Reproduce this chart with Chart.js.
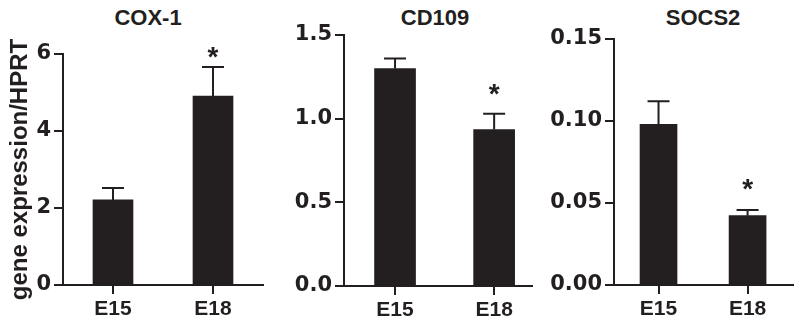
<!DOCTYPE html>
<html>
<head>
<meta charset="utf-8">
<script src="https://cdn.jsdelivr.net/npm/chart.js@4.4.1/dist/chart.umd.min.js"></script>
<style>
  body { margin: 0; background: #fff; width: 800px; height: 326px; position: relative; overflow: hidden; }
  canvas { position: absolute; top: 0; }
  .title { position: absolute; top: 7px; font: bold 22px "Liberation Sans", Arial, sans-serif; line-height: 22px;
           color: #231f20; transform: translateX(-50%); white-space: nowrap; }
</style>
</head>
<body>
<div class="title" style="left:148px">COX-1</div>
<div class="title" style="left:435px">CD109</div>
<div class="title" style="left:703px">SOCS2</div>
<canvas id="cox" width="270" height="326" style="left:0px"></canvas>
<canvas id="cd109" width="270" height="326" style="left:270px"></canvas>
<canvas id="socs2" width="260" height="326" style="left:540px"></canvas>
<script>
const categories = ['E15', 'E18'];

const coxMeans = [2.21, 4.91];
const coxErrors = [0.31, 0.75];
const coxStars = [null, 6.1];
const coxTicks = [0, 2, 4, 6];

const cdMeans = [1.30, 0.935];
const cdErrors = [0.06, 0.095];
const cdStars = [null, 1.19];
const cdTicks = [0, 0.5, 1.0, 1.5];

const socsMeans = [0.098, 0.0423];
const socsErrors = [0.014, 0.0034];
const socsStars = [null, 0.0628];
const socsTicks = [0, 0.05, 0.10, 0.15];

const ink = '#231f20';

function marksPlugin(means, errors, stars, cap) {
  return {
    id: 'marks',
    afterDatasetsDraw(chart) {
      const { ctx, scales: { x, y } } = chart;
      ctx.save();
      ctx.strokeStyle = ink;
      ctx.fillStyle = ink;
      ctx.lineWidth = 2;
      means.forEach((m, i) => {
        const px = x.getPixelForValue(i);
        const y0 = y.getPixelForValue(m);
        const y1 = y.getPixelForValue(m + errors[i]);
        ctx.beginPath();
        ctx.moveTo(px, y0);
        ctx.lineTo(px, y1);
        ctx.moveTo(px - cap / 2, y1);
        ctx.lineTo(px + cap / 2, y1);
        ctx.stroke();
        if (stars[i] != null) {
          ctx.font = 'bold 28px "Liberation Sans", Arial, sans-serif';
          ctx.textAlign = 'center';
          ctx.textBaseline = 'alphabetic';
          ctx.fillText('*', px, y.getPixelForValue(stars[i]) + 16);
        }
      });
      ctx.restore();
    }
  };
}

function makePanel(id, means, errors, stars, ticks, decimals, o) {
  const ctx = document.getElementById(id).getContext('2d');
  return new Chart(ctx, {
    type: 'bar',
    data: {
      datasets: [{
        data: means.map((m, i) => ({ x: i, y: m })),
        backgroundColor: ink,
        borderWidth: 0,
        barThickness: o.barWidth
      }]
    },
    options: {
      responsive: false,
      animation: false,
      devicePixelRatio: 1,
      layout: { padding: { top: o.top, right: o.right, bottom: 0, left: 0 } },
      plugins: { legend: { display: false }, tooltip: { enabled: false } },
      scales: {
        x: {
          type: 'linear',
          offset: false,
          min: o.xMin,
          max: o.xMax,
          afterBuildTicks: s => { s.ticks = categories.map((c, i) => ({ value: i })); },
          afterFit: s => { s.height = o.bottomH; },
          ticks: {
            callback: v => categories[v],
            color: ink,
            padding: 3,
            autoSkip: false,
            maxRotation: 0,
            font: { family: '"Liberation Sans", Arial, sans-serif', size: 21, weight: 'bold' }
          },
          grid: { offset: false, drawOnChartArea: false, drawTicks: true, tickLength: 9, color: ink, lineWidth: 2 },
          border: { color: ink, width: 2 }
        },
        y: {
          min: 0,
          max: ticks[ticks.length - 1],
          afterBuildTicks: s => { s.ticks = ticks.map(v => ({ value: v })); },
          afterFit: s => { s.width = o.leftW; },
          ticks: {
            callback: v => v.toFixed(decimals),
            color: ink,
            padding: 3,
            font: { family: '"DejaVu Sans", sans-serif', size: 21, weight: 'bold' }
          },
          grid: { drawOnChartArea: false, drawTicks: true, tickLength: 9, color: ink, lineWidth: 2 },
          border: { color: ink, width: 2 },
          title: {
            display: !!o.yTitle,
            text: o.yTitle || '',
            color: ink,
            padding: { top: 6, bottom: 0 },
            font: { family: '"Liberation Sans", Arial, sans-serif', size: 24, weight: 'bold' }
          }
        }
      }
    },
    plugins: [marksPlugin(means, errors, stars, o.cap)]
  });
}

makePanel('cox', coxMeans, coxErrors, coxStars, coxTicks, 0,
  { top: 54, right: 7, bottomH: 41, leftW: 63, xMin: -0.5, xMax: 1.5, barWidth: 40, cap: 22, yTitle: 'gene expression/HPRT' });
makePanel('cd109', cdMeans, cdErrors, cdStars, cdTicks, 1,
  { top: 35, right: 8, bottomH: 40, leftW: 74, xMin: -0.515, xMax: 1.382, barWidth: 41, cap: 22 });
makePanel('socs2', socsMeans, socsErrors, socsStars, socsTicks, 2,
  { top: 39, right: 7, bottomH: 41, leftW: 74, xMin: -0.5, xMax: 1.51, barWidth: 37, cap: 22 });
</script>
</body>
</html>
